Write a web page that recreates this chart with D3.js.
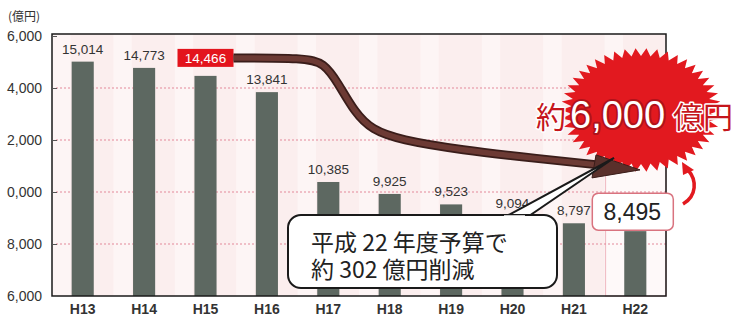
<!DOCTYPE html>
<html>
<head>
<meta charset="utf-8">
<title>Budget chart</title>
<script src="https://d3js.org/d3.v7.min.js"></script>
<style>
  body { margin: 0; background: #fff; }
  svg { display: block; }
  svg text { font-family: "Liberation Sans", Arial, "Noto Sans CJK JP", sans-serif; }
  .jp { font-family: "Noto Sans CJK JP", sans-serif; }
</style>
</head>
<body>
<div id="chart"></div>
<script>

// data
var years = ['H13', 'H14', 'H15', 'H16', 'H17', 'H18', 'H19', 'H20', 'H21', 'H22'];
var budget = [15014, 14773, 14466, 13841, 10385, 9925, 9523, 9094, 8797, 8495];
var valueLabels = ['15,014', '14,773', '14,466', '13,841', '10,385', '9,925', '9,523', '9,094', '8,797', '8,495'];
var yTickValues = [6000, 8000, 10000, 12000, 14000, 16000];
var yTickLabels = ['6,000', '8,000', '0,000', '2,000', '4,000', '6,000'];
var gridValues = [8000, 10000, 12000, 14000];

var W = 736, H = 318;
var plotLeft = 52, plotRight = 666, plotTop = 34, plotBottom = 296;

var svg = d3.select('#chart').append('svg')
  .attr('width', W).attr('height', H);

var x = d3.scaleBand().domain(years).range([plotLeft, plotRight]).paddingInner(0.64).paddingOuter(0.32);
var y = d3.scaleLinear().domain([6000, 16000]).range([plotBottom, 36]);
var bw = x.bandwidth();
var cx = function(k) { return x(k) + bw / 2; };

var rows = years.map(function(k, i) { return {year: k, value: budget[i], label: valueLabels[i]}; });

// clipped red headline at the very top
svg.append('text')
  .attr('class', 'jp')
  .attr('x', 70).attr('y', -6)
  .style('font-size', '26px').style('font-weight', 'bold')
  .style('fill', '#e8141c')
  .text('平成13年度から22年度までに約6,000億円の削減');

// plot background
svg.append('rect')
  .attr('x', plotLeft).attr('y', plotTop)
  .attr('width', plotRight - plotLeft).attr('height', plotBottom - plotTop)
  .style('fill', '#fbeeee');

// faint vertical bands
svg.append('g').selectAll('rect')
  .data(years).enter().append('rect')
    .attr('x', function(d) { return x(d) - x.step() * 0.32; })
    .attr('y', plotTop)
    .attr('width', x.step() * 0.3)
    .attr('height', plotBottom - plotTop)
    .style('fill', '#fdf5f5');

// highlighted H22 column
var hx = x('H22') - x.step() * 0.32 + 1;
svg.append('rect')
  .attr('x', hx).attr('y', 150)
  .attr('width', plotRight - hx).attr('height', plotBottom - 150)
  .style('fill', '#fef9f9')
  .style('stroke', '#f0b8c0').style('stroke-width', 1);

// dotted grid
svg.append('g').selectAll('line')
  .data(gridValues).enter().append('line')
    .attr('x1', plotLeft + 4).attr('x2', plotRight)
    .attr('y1', function(d) { return y(d); })
    .attr('y2', function(d) { return y(d); })
    .style('stroke', '#e3899a').style('stroke-width', 1)
    .style('stroke-dasharray', '2,2');

// bars
svg.append('g').selectAll('rect')
  .data(rows).enter().append('rect')
    .attr('x', function(d) { return x(d.year); })
    .attr('y', function(d) { return y(d.value); })
    .attr('width', bw)
    .attr('height', function(d) { return plotBottom - y(d.value); })
    .style('fill', '#5d6861');

// frame
svg.append('path')
  .attr('d', 'M' + plotLeft + ',' + plotTop + 'H' + plotRight + 'V' + plotBottom + 'H' + plotLeft + 'Z')
  .style('fill', 'none').style('stroke', '#1a1a1a').style('stroke-width', 1.5);

// y axis
var yAxis = d3.axisLeft(y)
  .tickValues(yTickValues)
  .tickSize(-5)
  .tickPadding(10)
  .tickFormat(function(d, i) { return yTickLabels[i]; });
var gy = svg.append('g').attr('transform', 'translate(' + plotLeft + ',0)').call(yAxis);
gy.select('.domain').remove();
gy.selectAll('text').style('font-size', '14px').style('fill', '#333');
gy.selectAll('line').style('stroke', '#555');

// x axis labels
var xAxis = d3.axisBottom(x).tickSize(0).tickPadding(8);
var gx = svg.append('g').attr('transform', 'translate(0,' + plotBottom + ')').call(xAxis);
gx.select('.domain').remove();
gx.selectAll('text').style('font-size', '14px').style('font-weight', 'bold').style('fill', '#333');

svg.append('text')
  .attr('class', 'jp')
  .attr('x', 8).attr('y', 21)
  .style('font-size', '12px').style('fill', '#333')
  .text('(億円)');

// value labels
svg.append('g').selectAll('text')
  .data(rows.filter(function(d) { return d.year !== 'H15' && d.year !== 'H22'; }))
  .enter().append('text')
    .attr('x', function(d) { return cx(d.year); })
    .attr('y', function(d) { return y(d.value) - 8; })
    .attr('text-anchor', 'middle')
    .style('font-size', '13.5px').style('fill', '#333')
    .text(function(d) { return d.label; });

// red label on H15
var r15 = rows[years.indexOf('H15')];
var ly = y(r15.value) - 18;
svg.append('rect')
  .attr('x', cx('H15') - 28).attr('y', ly - 9)
  .attr('width', 56).attr('height', 18)
  .style('fill', '#e3141d');

// trend arrow from the H15 label to H22
var pts = [
  [cx('H15') + 28, ly], [305, ly], [324, ly + 5], [338, ly + 25], [355, ly + 55],
  [372, ly + 72], [400, ly + 82], [460, ly + 92], [540, ly + 101], [598, ly + 107]
];
var curve = d3.line().curve(d3.curveBasis);
svg.append('path').attr('d', curve(pts))
  .style('fill', 'none').style('stroke', '#3a1d1a').style('stroke-width', 9);
svg.append('path').attr('d', curve(pts))
  .style('fill', 'none').style('stroke', '#6c3a34').style('stroke-width', 5.5);

svg.append('text')
  .attr('x', cx('H15')).attr('y', ly + 5)
  .attr('text-anchor', 'middle')
  .style('font-size', '13.5px').style('fill', '#fff')
  .text(r15.label);

// starburst
var sbx = 641, sby = 110, rx = 80, ry = 62, n = 46;
var star = [];
for (var k = 0; k < n * 2; k++) {
  var a = Math.PI * k / n;
  var f = k % 2 === 0 ? 1 : 0.87;
  star.push([sbx + Math.cos(a) * rx * f, sby + Math.sin(a) * ry * f]);
}
svg.append('path')
  .attr('d', d3.line()(star) + 'Z')
  .style('fill', '#e2191f');

// arrow head
svg.append('path')
  .attr('d', 'M596,' + (ly + 97) + 'L640,' + (ly + 112) + 'L592,' + (ly + 120) + 'Z')
  .style('fill', '#5a302b').style('stroke', '#3a1d1a').style('stroke-width', 1);

// starburst text
var bigText = svg.append('text')
  .attr('x', 536).attr('y', 128)
  .style('paint-order', 'stroke')
  .style('stroke', '#fff').style('stroke-width', 3)
  .style('stroke-linejoin', 'round');
bigText.append('tspan').attr('class', 'jp')
  .style('font-size', '30px').style('fill', '#c5161c').text('約');
bigText.append('tspan')
  .attr('dx', 4)
  .style('font-size', '38px').style('fill', '#fff')
  .style('stroke', '#b0121a').style('stroke-width', 4)
  .text('6,000');
bigText.append('tspan').attr('class', 'jp')
  .attr('dx', 8)
  .style('font-size', '30px').style('fill', '#c5161c').text('億円');

// small red curved arrow
svg.append('path')
  .attr('d', 'M683,204 C697,196 697,180 688,170')
  .style('fill', 'none').style('stroke', '#e2191f').style('stroke-width', 3.5);
svg.append('path')
  .attr('d', 'M682,162 L694,170 L683,175 Z')
  .style('fill', '#e2191f');

// callout bubble
svg.append('path')
  .attr('d', 'M503,218 L614,158 L526,218 Z')
  .style('fill', '#fff').style('stroke', '#1a1a1a').style('stroke-width', 2);
svg.append('rect')
  .attr('x', 288).attr('y', 215)
  .attr('width', 269).attr('height', 73)
  .attr('rx', 13)
  .style('fill', '#fff').style('stroke', '#1a1a1a').style('stroke-width', 2);
svg.append('path')
  .attr('d', 'M504,216.5 L525,216.5')
  .style('stroke', '#fff').style('stroke-width', 2.5);
svg.append('text').attr('class', 'jp')
  .attr('x', 311).attr('y', 251)
  .style('font-size', '23px').style('fill', '#222')
  .text('平成 22 年度予算で');
svg.append('text').attr('class', 'jp')
  .attr('x', 311).attr('y', 278)
  .style('font-size', '23px').style('fill', '#222')
  .text('約 302 億円削減');

// 8,495 box
var r22 = rows[years.indexOf('H22')];
svg.append('rect')
  .attr('x', cx('H22') - 43).attr('y', y(r22.value) - 38)
  .attr('width', 81).attr('height', 37)
  .attr('rx', 6)
  .style('fill', '#fff').style('stroke', '#d9737f').style('stroke-width', 1.5);
svg.append('text')
  .attr('x', cx('H22') - 3).attr('y', y(r22.value) - 11)
  .attr('text-anchor', 'middle')
  .style('font-size', '23px').style('fill', '#222')
  .text(r22.label);

</script>
</body>
</html>
